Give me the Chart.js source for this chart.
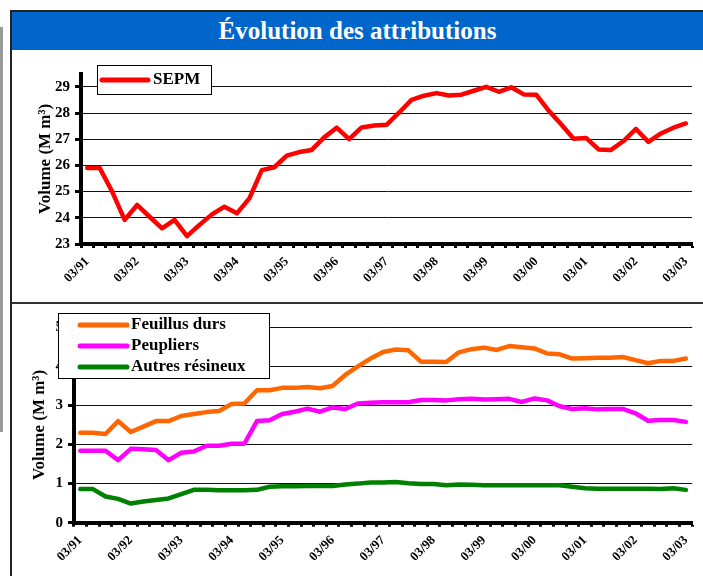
<!DOCTYPE html>
<html>
<head>
<meta charset="utf-8">
<script src="https://cdn.jsdelivr.net/npm/chart.js@4"></script>
<style>
  html, body { margin: 0; padding: 0; background: #fff; }
  body { width: 703px; height: 576px; position: relative; overflow: hidden; }
  #grayBar { position: absolute; left: 0; top: 27px; width: 3px; height: 405px; background: #9a9a9a; }
  #frame { position: absolute; left: 10px; top: 10px; width: 700px; height: 580px; border-left: 2px solid #222; border-top: 2px solid #222; }
  #title { position: absolute; left: 12px; top: 12px; width: 691px; height: 38px; background: #0066cc;
           color: #fff; font: bold 25px "Liberation Serif", "Times New Roman", serif; text-align: center; line-height: 38px; }
  #sep { position: absolute; left: 12px; top: 302px; width: 691px; height: 2px; background: #333; }
  #topChart { position: absolute; left: 11px; top: 51px; }
  #bottomChart { position: absolute; left: 11px; top: 304px; }
</style>
</head>
<body>
<div id="grayBar"></div>
<div id="frame"></div>
<div id="title">Évolution des attributions</div>
<canvas id="topChart" width="692" height="251"></canvas>
<div id="sep"></div>
<canvas id="bottomChart" width="692" height="272"></canvas>
<script>
// quarterly categories, 03/91 .. 03/03
const quarters = [
    '03/91', '06/91', '09/91', '12/91', '03/92', '06/92', '09/92', '12/92',
    '03/93', '06/93', '09/93', '12/93', '03/94', '06/94', '09/94', '12/94',
    '03/95', '06/95', '09/95', '12/95', '03/96', '06/96', '09/96', '12/96',
    '03/97', '06/97', '09/97', '12/97', '03/98', '06/98', '09/98', '12/98',
    '03/99', '06/99', '09/99', '12/99', '03/00', '06/00', '09/00', '12/00',
    '03/01', '06/01', '09/01', '12/01', '03/02', '06/02', '09/02', '12/02',
    '03/03'
];

const sepm = [
    25.9, 25.9, 25.0, 23.92, 24.49, 24.04, 23.6, 23.92, 23.3, 23.73,
    24.13, 24.42, 24.17, 24.74, 25.82, 25.93, 26.37, 26.51, 26.59, 27.07,
    27.44, 27.0, 27.45, 27.52, 27.55, 28.01, 28.5, 28.66, 28.76, 28.67,
    28.7, 28.85, 29.0, 28.81, 28.98, 28.71, 28.7, 28.09, 27.57, 27.02,
    27.05, 26.61, 26.59, 26.93, 27.39, 26.9, 27.22, 27.44, 27.6
];

const feuillusDurs = [
    2.30, 2.30, 2.27, 2.60, 2.32, 2.46, 2.60, 2.60, 2.73, 2.78,
    2.83, 2.86, 3.04, 3.05, 3.39, 3.39, 3.45, 3.45, 3.47, 3.44,
    3.50, 3.78, 4.00, 4.20, 4.37, 4.43, 4.41, 4.12, 4.12, 4.11,
    4.36, 4.44, 4.48, 4.42, 4.52, 4.49, 4.46, 4.33, 4.31, 4.20,
    4.21, 4.22, 4.22, 4.24, 4.16, 4.08, 4.14, 4.14, 4.20
];

const peupliers = [
    1.84, 1.84, 1.84, 1.60, 1.89, 1.88, 1.86, 1.60, 1.79, 1.82,
    1.97, 1.97, 2.02, 2.02, 2.60, 2.62, 2.78, 2.84, 2.92, 2.84,
    2.95, 2.91, 3.05, 3.07, 3.08, 3.08, 3.08, 3.14, 3.14, 3.13,
    3.16, 3.17, 3.15, 3.16, 3.17, 3.09, 3.18, 3.13, 2.98, 2.91,
    2.93, 2.90, 2.91, 2.91, 2.80, 2.61, 2.63, 2.63, 2.58
];

const autresResineux = [
    0.86, 0.86, 0.67, 0.61, 0.49, 0.54, 0.58, 0.62, 0.73, 0.84,
    0.84, 0.83, 0.83, 0.83, 0.84, 0.92, 0.93, 0.93, 0.94, 0.94,
    0.94, 0.98, 1.00, 1.03, 1.03, 1.04, 1.01, 0.99, 0.99, 0.96,
    0.98, 0.97, 0.96, 0.96, 0.96, 0.96, 0.96, 0.96, 0.96, 0.92,
    0.88, 0.87, 0.87, 0.87, 0.87, 0.87, 0.86, 0.88, 0.84, 0.84
];

// y tick values shown on each panel
const topTicks = [23, 24, 25, 26, 27, 28, 29];
const bottomTicks = [0, 1, 2, 3, 4, 5];

const yTitle = 'Volume (M m³)';
const serif = '"Liberation Serif", "Times New Roman", serif';

// legend drawn as a framed box over the plot
const boxLegend = {
    id: 'boxLegend',
    afterDraw(chart, args, o) {
        const ctx = chart.ctx;
        ctx.save();
        ctx.fillStyle = '#fff';
        ctx.fillRect(o.x, o.y, o.w, o.h);
        ctx.strokeStyle = '#000';
        ctx.lineWidth = 1;
        ctx.strokeRect(o.x + 0.5, o.y + 0.5, o.w, o.h);
        ctx.font = 'bold 17px ' + serif;
        ctx.textBaseline = 'middle';
        ctx.lineCap = 'round';
        chart.data.datasets.forEach((ds, i) => {
            const y = o.y + o.firstRow + i * o.rowGap;
            ctx.strokeStyle = ds.borderColor;
            ctx.lineWidth = 5;
            ctx.beginPath();
            ctx.moveTo(o.x + o.lineStart, y);
            ctx.lineTo(o.x + o.lineEnd, y);
            ctx.stroke();
            ctx.fillStyle = '#000';
            ctx.fillText(ds.label, o.x + o.textStart, y);
        });
        ctx.restore();
    }
};

function makeOptions(cfg) {
    return {
        responsive: false,
        animation: false,
        devicePixelRatio: 1,
        layout: { padding: { left: 0, top: cfg.padTop, right: cfg.padRight, bottom: 0 } },
        elements: {
            point: { radius: 0 },
            line: { borderWidth: 4.5, tension: 0, borderCapStyle: 'round', borderJoinStyle: 'round' }
        },
        plugins: {
            legend: { display: false },
            tooltip: { enabled: false },
            boxLegend: cfg.legend
        },
        scales: {
            x: {
                type: 'category',
                offset: true,
                afterFit: (s) => { s.height = cfg.xHeight; },
                grid: { offset: true, drawOnChartArea: false, tickLength: 4, tickWidth: 3, tickColor: '#000' },
                border: { display: true, color: '#000', width: 4 },
                ticks: {
                    autoSkip: false,
                    minRotation: 45,
                    maxRotation: 45,
                    padding: cfg.xPad,
                    color: '#000',
                    font: { family: serif, weight: 'bold', size: 13 },
                    callback: (v, i) => quarters[i].startsWith('03/') ? quarters[i] : ''
                }
            },
            y: {
                min: cfg.min,
                max: cfg.max,
                afterFit: (s) => { s.width = cfg.yWidth; },
                afterBuildTicks: (s) => { s.ticks = cfg.ticks.map(v => ({ value: v })); },
                grid: { color: '#111', lineWidth: 1, tickLength: 6, tickWidth: 3, tickColor: '#000' },
                border: { display: true, color: '#000', width: 4 },
                ticks: {
                    padding: 5,
                    color: '#000',
                    font: { family: serif, weight: 'bold', size: 15 }
                },
                title: {
                    display: true,
                    text: yTitle,
                    color: '#000',
                    padding: { top: cfg.titlePad, bottom: 0 },
                    font: { family: serif, weight: 'bold', size: 17 }
                }
            }
        }
    };
}

new Chart(document.getElementById('topChart'), {
    type: 'line',
    data: {
        labels: quarters,
        datasets: [
            { label: 'SEPM', data: sepm, borderColor: '#ff0000' }
        ]
    },
    options: makeOptions({
        padTop: 22.7, padRight: 10, xHeight: 58, yWidth: 70, xPad: 6,
        min: 23, max: 29.5, ticks: topTicks, titlePad: 24,
        legend: { x: 86, y: 14, w: 114, h: 29, firstRow: 15, rowGap: 21, lineStart: 5, lineEnd: 51, textStart: 56 }
    }),
    plugins: [boxLegend]
});

new Chart(document.getElementById('bottomChart'), {
    type: 'line',
    data: {
        labels: quarters,
        datasets: [
            { label: 'Feuillus durs', data: feuillusDurs, borderColor: '#ff6600' },
            { label: 'Peupliers', data: peupliers, borderColor: '#ff00ff' },
            { label: 'Autres résineux', data: autresResineux, borderColor: '#008000' }
        ]
    },
    options: makeOptions({
        padTop: 23.3, padRight: 5, xHeight: 53.3, yWidth: 63, xPad: 6,
        min: 0, max: 5, ticks: bottomTicks, titlePad: 18,
        legend: { x: 47, y: 9, w: 211, h: 65, firstRow: 12, rowGap: 21, lineStart: 22, lineEnd: 69, textStart: 73 }
    }),
    plugins: [boxLegend]
});
</script>
</body>
</html>
